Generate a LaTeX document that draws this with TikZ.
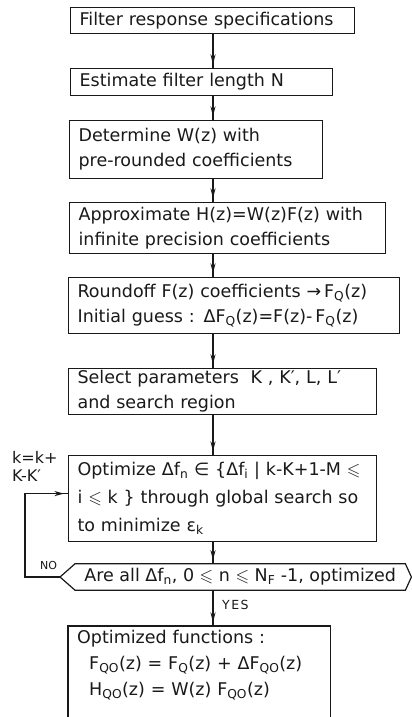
\documentclass[tikz,border=0pt]{standalone}
\usepackage{fontspec}
\setmainfont{DejaVu Sans}
\usepackage{amssymb}
\usetikzlibrary{positioning,arrows.meta,calc,decorations.markings}
\definecolor{inkclr}{RGB}{25,25,25}
\newcommand{\boxfont}{\fontsize{17.5}{25}\selectfont}
\newcommand{\tagfont}{\fontsize{11}{13}\selectfont}
\newcommand{\lo}[1]{\textsubscript{#1}}
\newcommand{\leqs}{$\leqslant$}
\tikzset{
  stage/.style={rectangle,draw=inkclr,line width=1.2pt,anchor=north west,
                align=left,inner xsep=9pt,inner ysep=2pt,font=\boxfont},
  query/.style={anchor=west,inner xsep=5pt,inner ysep=0pt,
                minimum height=26pt,font=\fontsize{17.5}{20}\selectfont},
  flow/.style={draw=inkclr,line width=1.2pt,postaction={decorate},
               decoration={markings,mark=at position -4pt with
                 {\arrow{Stealth[length=3.4mm,width=1.8mm]}}}},
  tag/.style={font=\tagfont,inner sep=0pt,text=inkclr},
}

\begin{document}
\begin{tikzpicture}[x=1pt, y=-1pt, text=inkclr]
\useasboundingbox (0,0) rectangle (412,717);
\coordinate (spine) at (213,0);
\coordinate (floor) at (0,717);

% Process boxes, top to bottom
\node[stage, text width=266pt, minimum height=26pt] (spec) at (70,7) {Filter response specifications};
\node[stage, text width=244pt, minimum height=27pt] (length) at (70,68) {Estimate filter length N};
\node[stage, text width=235pt, minimum height=58pt] (wz) at (69,120) {Determine W(z) with\\pre-rounded coefficients};
\node[stage, text width=298pt, minimum height=51pt] (approx) at (69,202) {Approximate H(z)=W(z)F(z) with\\infinite precision coefficients};
\node[stage, text width=313pt, minimum height=56pt] (round) at (68,277) {Roundoff F(z) coefficients\,\,→\,F\lo{Q}(z)\\Initial guess : ΔF\lo{Q}(z)=F(z)-\,F\lo{Q}(z)};
\node[stage, text width=290pt, minimum height=45pt] (params) at (68,368) {Select parameters\ \ K , K′, L, L′\\and search region};
\node[stage, text width=290pt, minimum height=86pt, font=\fontsize{17.5}{28}\selectfont] (optim) at (68,455)
  {Optimize Δf\lo{n} ∈ \{Δf\lo{i} | k-K+1-M \leqs\\i \leqs\ k \} through global search so\\to minimize ε\lo{k}};

% Decision
\node[query, minimum width=330pt] (check) at (75,577) {Are all Δf\lo{n}, 0 \leqs\ n \leqs\ N\lo{F} -1, optimized};
\draw[inkclr,line width=1.2pt] (check.north west) -- (check.north east) -- ($(check.east)+(6,0)$)
  -- (check.south east) -- (check.south west) -- ($(check.west)+(-15,0)$) coordinate (notip) -- cycle;

% Final result, open at the bottom
\node[anchor=north west, align=left, inner xsep=9pt, inner ysep=4pt, text width=244pt,
      font=\fontsize{17.5}{26}\selectfont] (result) at (68,626)
  {Optimized functions :\\\hspace*{12pt}F\lo{QO}(z) = F\lo{Q}(z) + ΔF\lo{QO}(z)\\\hspace*{12pt}H\lo{QO}(z) = W(z) F\lo{QO}(z)};
\draw[inkclr,line width=1.2pt] (result.west |- floor) -- (result.north west) -- (result.north east) -- (result.east |- floor);

% Connectors
\draw[flow] (spec.south -| spine) -- (length.north -| spine);
\draw[flow] (length.south -| spine) -- (wz.north -| spine);
\draw[flow] (wz.south -| spine) -- (approx.north -| spine);
\draw[flow] (approx.south -| spine) -- (round.north -| spine);
\draw[flow] (round.south -| spine) -- (params.north -| spine);
\draw[flow] (params.south -| spine) -- (optim.north -| spine);
\draw[flow] (optim.south -| spine) -- (check.north -| spine);
\draw[flow] (check.south -| spine) -- (result.north -| spine);
\draw[flow] (notip) -- ++(-35,0) |- ([yshift=5pt]optim.west);

% Loop and branch labels
\node[tag, anchor=north west, align=left, font=\fontsize{16}{18}\selectfont] (step) at (12,451) {k=k+\\K-K′};
\node[tag, anchor=south west] (no) at (40,570) {NO};
\node[tag, anchor=west, font=\fontsize{12.5}{14}\selectfont] (yes) at (222,605) {Y\kern1.5pt E\kern1.5pt S};
\end{tikzpicture}
\end{document}
